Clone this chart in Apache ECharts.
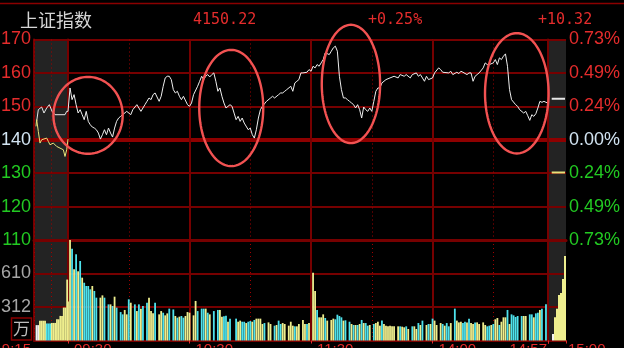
<!DOCTYPE html>
<html><head><meta charset="utf-8">
<script src="https://cdn.jsdelivr.net/npm/echarts@6/dist/echarts.min.js"></script>
<style>html,body{margin:0;padding:0;background:#000;}#c{width:624px;height:348px;}</style>
</head><body><div id="c"></div>
<script>
// ---------- data ----------
const indexName = '上证指数';
const lastPrice = 4150.22;
const prevClose = 4139.90;

const priceTickLabels = ['110', '120', '130', '140', '150', '160', '170'];
const pctTickLabels = ['0.73%', '0.49%', '0.24%', '0.00%', '0.24%', '0.49%', '0.73%'];
const volTickLabels = ['', '312', '610', ''];
const sessionTimeLabels = ['09:30', '10:30', '11:30', '14:00'];
const auctionStartLabel = '9:15';
const closeStartLabel = '14:57';
const closeEndLabel = '15:00';
const volUnitLabel = '万';

// call auction, seconds after 9:15
const auctionPrice = [[47,4145.5],[76,4149],[94,4148.5],[135,4149.8],[176,4148],[224,4149.5],[271,4150.5],[318,4148.5],[371,4147.5],[459,4147.5],[547,4147.5],[577,4148.5],[600,4148.5]];
const auctionAvg = [[35,4144],[47,4146],[76,4142.5],[106,4139],[135,4140],[224,4140.5],[253,4139.5],[282,4138.5],[341,4139],[400,4138],[459,4137.5],[518,4137],[547,4135],[577,4137],[600,4140.2]];
const auctionVolume = [[45,140,'w'],[75,140,'w'],[105,180,'y'],[135,180,'y'],[165,180,'y'],[195,180,'y'],[225,155,'c'],[255,155,'c'],[285,155,'c'],[315,160,'y'],[345,160,'y'],[375,160,'y'],[405,193,'y'],[435,193,'y'],[465,224,'y'],[495,224,'y'],[525,300,'y'],[555,300,'y'],[585,555,'y']];

// continuous session, minutes after 9:30 (11:30/13:00 = 120, 14:57 = 237)
const sessionPrice = [[0,4148.5],[1,4155.5],[2,4152],[3,4153.5],[4,4150.5],[5,4148],[6,4149],[7,4147.5],[8,4146],[9,4148.5],[10,4145.5],[11,4144.5],[12,4143.8],[13,4143.5],[14,4143],[15,4142],[16,4140.2],[17,4141.5],[18,4143],[19,4141.5],[20,4143.5],[21,4142],[22,4140.8],[23,4143.5],[24,4145.5],[25,4146.5],[26,4147],[27,4147.5],[29,4148.5],[31,4147.5],[32,4149],[34,4150.5],[35,4149.5],[36,4148.5],[38,4150.5],[39,4151.5],[40,4152.5],[41,4152],[42,4153.5],[43,4154],[45,4151.5],[46,4153],[47,4156],[48,4158.5],[49,4159],[50,4159],[51,4158],[52,4155],[53,4154],[54,4154.5],[55,4153],[56,4152],[57,4153],[59,4150.5],[60,4150],[61,4151],[62,4153.5],[64,4156],[65,4157.5],[66,4159],[67,4158],[68,4159],[69,4159.5],[70,4158.8],[71,4159.5],[72,4160],[73,4157.5],[74,4154.5],[75,4155.5],[76,4153],[77,4151],[78,4149.5],[80,4150.5],[81,4150],[82,4148],[83,4146],[84,4147],[85,4145.5],[86,4146.5],[87,4145],[89,4143],[90,4143.5],[91,4141.5],[92,4140.5],[93,4143],[94,4146.5],[95,4149],[96,4150],[98,4151.5],[100,4152.5],[101,4153],[102,4152.5],[104,4153.5],[105,4154],[106,4154],[107,4154.5],[108,4155],[110,4156],[111,4154.5],[112,4157],[113,4157.5],[114,4158],[115,4160],[116,4160],[118,4160.2],[119,4161],[120,4160.5],[121,4162],[122,4161.5],[123,4162.5],[124,4162],[125,4163],[126,4164],[127,4166],[129,4165.5],[130,4166.5],[131,4167.5],[132,4168],[133,4166.5],[134,4159],[135,4155],[136,4152.5],[137,4152.5],[138,4152],[139,4151.5],[140,4151],[141,4150.5],[142,4149.5],[143,4150.5],[144,4149],[145,4146.5],[146,4149.8],[147,4149],[148,4148.5],[149,4149.5],[150,4148.5],[151,4151.5],[152,4154.5],[153,4155.5],[154,4155.5],[155,4157],[157,4158],[159,4158.5],[161,4159],[163,4158.5],[164,4159.5],[166,4159],[167,4159.5],[169,4158.5],[170,4159.5],[172,4160],[173,4159],[174,4159.5],[176,4157.5],[177,4159],[178,4158],[180,4158.5],[181,4160],[183,4161.5],[184,4161],[185,4160.2],[188,4160],[189,4160.5],[190,4159.5],[192,4160.2],[193,4159.8],[194,4160.5],[195,4160.2],[197,4159.5],[198,4160],[199,4160],[200,4157.5],[201,4159],[202,4159.5],[203,4160],[205,4161.5],[206,4163],[207,4162.5],[208,4162.5],[210,4163],[211,4164],[212,4162.5],[213,4164.5],[214,4164],[215,4165],[216,4165.7],[217,4162],[218,4155],[219,4152],[221,4150.5],[222,4150],[223,4149],[225,4148],[226,4148.5],[227,4147.2],[228,4145.8],[229,4147.5],[230,4147],[231,4147.8],[232,4149.5],[233,4151.5],[234,4151.2],[235,4151.5],[236,4151.2],[237,4151]];

const sessionVolume = [[0,355,'y'],[1,921,'y'],[2,836,'c'],[3,648,'y'],[4,785,'c'],[5,630,'y'],[6,724,'c'],[7,572,'y'],[8,526,'c'],[9,496,'c'],[10,496,'c'],[11,466,'c'],[12,496,'y'],[13,451,'c'],[14,390,'c'],[16,390,'y'],[17,411,'y'],[18,390,'c'],[20,329,'c'],[21,329,'y'],[22,314,'c'],[23,399,'y'],[24,299,'c'],[26,259,'c'],[27,238,'c'],[28,278,'y'],[29,238,'y'],[30,375,'c'],[31,344,'y'],[33,329,'c'],[34,268,'y'],[35,329,'c'],[36,290,'y'],[37,314,'c'],[39,344,'c'],[40,390,'y'],[41,268,'y'],[42,247,'y'],[43,344,'c'],[45,238,'y'],[46,268,'y'],[47,253,'c'],[48,229,'y'],[49,247,'y'],[50,290,'c'],[52,283,'c'],[53,223,'y'],[54,208,'c'],[55,217,'y'],[56,223,'c'],[57,208,'c'],[58,223,'y'],[59,259,'y'],[60,253,'y'],[62,229,'y'],[63,360,'y'],[64,268,'c'],[66,290,'c'],[67,290,'c'],[68,290,'y'],[69,253,'c'],[70,238,'y'],[72,268,'c'],[74,278,'c'],[75,278,'y'],[76,217,'y'],[77,220,'c'],[78,226,'c'],[79,171,'y'],[80,199,'c'],[83,199,'c'],[84,171,'y'],[85,181,'y'],[86,171,'c'],[87,171,'c'],[88,159,'y'],[89,171,'c'],[90,177,'c'],[91,171,'y'],[92,187,'c'],[93,199,'y'],[94,199,'y'],[95,199,'y'],[96,150,'y'],[97,159,'c'],[99,165,'y'],[100,150,'y'],[102,135,'c'],[103,141,'y'],[104,181,'c'],[105,150,'c'],[106,159,'y'],[107,150,'y'],[109,135,'y'],[110,171,'y'],[111,135,'y'],[112,129,'c'],[113,129,'y'],[114,150,'y'],[116,187,'y'],[117,150,'y'],[118,150,'c'],[119,159,'y'],[121,617,'y'],[122,451,'y'],[123,278,'c'],[124,211,'y'],[125,211,'y'],[126,238,'y'],[127,205,'c'],[128,181,'y'],[130,187,'y'],[131,199,'y'],[132,193,'c'],[133,235,'c'],[134,223,'c'],[135,211,'c'],[136,181,'y'],[137,184,'c'],[139,171,'c'],[140,150,'y'],[141,141,'c'],[142,141,'y'],[143,141,'c'],[144,150,'y'],[145,187,'c'],[146,159,'y'],[147,159,'c'],[148,135,'c'],[149,141,'y'],[151,150,'c'],[152,159,'y'],[153,171,'y'],[154,135,'y'],[155,181,'c'],[156,150,'y'],[157,135,'y'],[158,129,'y'],[159,135,'y'],[160,129,'y'],[161,129,'y'],[163,129,'y'],[164,129,'c'],[165,126,'y'],[166,120,'y'],[167,129,'c'],[168,105,'y'],[170,129,'c'],[171,129,'y'],[172,105,'y'],[173,159,'c'],[174,141,'y'],[175,181,'c'],[177,141,'y'],[178,150,'c'],[179,150,'y'],[180,199,'c'],[181,181,'y'],[182,141,'y'],[184,159,'y'],[185,150,'c'],[186,135,'y'],[187,159,'c'],[188,129,'c'],[189,159,'y'],[191,290,'c'],[192,181,'y'],[193,165,'y'],[194,171,'y'],[195,159,'c'],[196,171,'c'],[197,165,'y'],[198,199,'c'],[199,159,'y'],[200,150,'y'],[201,165,'c'],[202,165,'y'],[203,150,'y'],[205,165,'y'],[206,141,'y'],[207,129,'c'],[208,135,'c'],[209,141,'y'],[210,150,'c'],[211,193,'y'],[212,205,'y'],[213,141,'c'],[214,171,'y'],[215,211,'y'],[216,211,'y'],[217,278,'c'],[218,150,'y'],[219,238,'c'],[220,229,'c'],[221,214,'c'],[222,223,'c'],[224,223,'c'],[225,223,'y'],[226,223,'y'],[228,238,'c'],[229,238,'c'],[230,211,'y'],[231,247,'c'],[232,253,'c'],[233,278,'y'],[234,290,'c'],[236,329,'c']];

// closing auction, seconds after 14:57
const closingPrice = [[37,4152.3],[170,4152.3]];
const closingAvg = [[37,4130.2],[170,4130.2]];
const closingVolume = [[50,60,'w'],[70,211,'y'],[90,290,'y'],[110,415,'y'],[130,432,'y'],[150,561,'y'],[170,769,'y']];

// hand-drawn highlight ellipses: [centre minute, centre price, half-width (min), half-height (pts)]
const highlights = [[9.9,4147.3,17.1,11.5],[80.6,4149.5,15.8,17.4],[139.7,4156.7,14.4,17.7],[221.6,4153.9,15.7,18.0]];

// ---------- style ----------
const PRICE_MIN = 4110, PRICE_MAX = 4170, PRICE_STEP = 10;
const VOL_MAX = 915, VOL_STEP = 305;
const RED = '#e42c2c', GREEN = '#22c922', NEUTRAL = '#d2e4f2', GRAY = '#a6a6a6';
const GRIDC = '#760000', DOTC = '#a00000', THICK = '#8e0000';
const BG = '#232323';
const VCOL = { y: '#eeee8e', c: '#4ee2ec', w: '#f2f2f2' };
const SANS = '"Liberation Sans", Arial, sans-serif';
const TOP = 39.5, PH = 200.5, VT = 240, VH = 100.5;
const L0 = 34, L1 = 68, L2 = 548, R = 566;

const chart = echarts.init(document.getElementById('c'), null, { renderer: 'canvas', width: 624, height: 348 });

const hide = { show: false };
const solidSplit = { show: true, lineStyle: { color: GRIDC, width: 2 } };
const dotSplit = { show: true, lineStyle: { color: DOTC, width: 1, type: [1, 3] } };
function gridBox(left, width, top, height, shaded) {
  return { left: left, width: width, top: top, height: height, containLabel: false, outerBoundsMode: 'none',
    show: shaded, backgroundColor: shaded ? BG : 'transparent', borderWidth: 0 };
}
function priceColor(v) {
  v = Number(v);
  if (v > prevClose + 1) return RED;
  if (v < prevClose - 1) return GREEN;
  return NEUTRAL;
}
function priceIdx(v) { return Math.round((Number(v) - PRICE_MIN) / PRICE_STEP); }
const bottomLine = w => ({ show: true, onZero: false, lineStyle: { color: GRIDC, width: w } });
const lbl = { fontFamily: SANS, fontSize: 15, color: RED, margin: 2 };

const prevLine = {
  silent: true, symbol: ['none', 'none'], z: 1,
  label: { show: false }, emphasis: { disabled: true },
  lineStyle: { color: THICK, width: 4, type: 'solid' },
  data: [{ yAxis: prevClose }]
};

const change = lastPrice - prevClose;
const pct = change / prevClose * 100;

const option = {
  backgroundColor: '#000',
  animation: false,
  grid: [
    gridBox(L0, L1 - L0, TOP, PH, true),
    gridBox(L1, L2 - L1, TOP, PH, false),
    gridBox(L2, R - L2, TOP, PH, true),
    gridBox(L0, L1 - L0, VT, VH, true),
    gridBox(L1, L2 - L1, VT, VH, false),
    gridBox(L2, R - L2, VT, VH, true)
  ],
  xAxis: [
    { gridIndex: 0, type: 'value', min: 0, max: 600, interval: 300, axisLine: bottomLine(3), axisTick: hide, axisLabel: hide, splitLine: dotSplit, z: 1 },
    { gridIndex: 1, type: 'value', min: 0, max: 237, interval: 60, axisLine: bottomLine(3), axisTick: hide, axisLabel: hide, splitLine: solidSplit, z: 3 },
    { gridIndex: 1, type: 'value', position: 'top', min: 0, max: 237, interval: 30, axisLine: hide, axisTick: hide, axisLabel: hide, splitLine: dotSplit, z: 1 },
    { gridIndex: 2, type: 'value', min: 0, max: 180, interval: 180, axisLine: bottomLine(3), axisTick: hide, axisLabel: hide, splitLine: hide },
    { gridIndex: 3, type: 'value', min: 0, max: 600, interval: 300, axisLine: bottomLine(2), axisTick: hide,
      axisLabel: Object.assign({}, lbl, { showMinLabel: true, align: 'right', padding: [0, 3, 0, 0], formatter: v => v === 0 ? auctionStartLabel : '' }),
      splitLine: dotSplit, z: 1 },
    { gridIndex: 4, type: 'value', min: 0, max: 237, interval: 60, axisLine: bottomLine(2),
      axisTick: { show: true, length: 3, lineStyle: { color: RED } },
      axisLabel: Object.assign({}, lbl, { showMinLabel: true, align: 'left', padding: [0, 0, 0, 6], formatter: v => sessionTimeLabels[v / 60] || '' }),
      splitLine: solidSplit, z: 3 },
    { gridIndex: 4, type: 'value', position: 'top', min: 0, max: 237, interval: 30, axisLine: hide, axisTick: hide, axisLabel: hide, splitLine: dotSplit, z: 1 },
    { gridIndex: 5, type: 'value', position: 'bottom', min: 0, max: 180, interval: 180, axisLine: bottomLine(2),
      axisTick: { show: true, length: 3, lineStyle: { color: RED } },
      axisLabel: Object.assign({}, lbl, { showMinLabel: true, showMaxLabel: true, align: 'right', padding: [0, 1, 0, 0], formatter: v => v === 0 ? closeStartLabel : '' }),
      splitLine: hide },
    { gridIndex: 5, type: 'value', position: 'bottom', offset: 0, min: 0, max: 180, interval: 180, axisLine: hide, axisTick: hide,
      axisLabel: Object.assign({}, lbl, { showMinLabel: true, showMaxLabel: true, align: 'left', padding: [0, 0, 0, 2], formatter: v => v === 180 ? closeEndLabel : '' }),
      splitLine: hide }
  ],
  yAxis: [
    { gridIndex: 0, type: 'value', position: 'left', min: PRICE_MIN, max: PRICE_MAX, interval: PRICE_STEP,
      axisLine: { show: true, lineStyle: { color: GRIDC, width: 2 } }, axisTick: hide,
      axisLabel: { show: true, fontFamily: SANS, fontSize: 18, margin: 3, color: v => priceColor(v), formatter: v => priceTickLabels[priceIdx(v)] },
      splitLine: solidSplit },
    { gridIndex: 1, type: 'value', position: 'right', min: PRICE_MIN, max: PRICE_MAX, interval: PRICE_STEP,
      axisLine: { show: true, lineStyle: { color: GRIDC, width: 2 } }, axisTick: hide, axisLabel: hide, splitLine: solidSplit },
    { gridIndex: 2, type: 'value', position: 'right', min: PRICE_MIN, max: PRICE_MAX, interval: PRICE_STEP,
      axisLine: { show: true, lineStyle: { color: GRIDC, width: 2 } }, axisTick: hide,
      axisLabel: { show: true, fontFamily: SANS, fontSize: 18, margin: 3, color: v => priceColor(v), formatter: v => pctTickLabels[pctTickLabels.length - 1 - priceIdx(v)] },
      splitLine: solidSplit },
    { gridIndex: 3, type: 'value', position: 'left', min: 0, max: VOL_MAX, interval: VOL_STEP,
      axisLine: { show: true, lineStyle: { color: GRIDC, width: 2 } }, axisTick: hide,
      axisLabel: { show: true, fontFamily: SANS, fontSize: 18, margin: 3, color: GRAY, formatter: v => volTickLabels[Math.round(v / VOL_STEP)] },
      splitLine: solidSplit },
    { gridIndex: 4, type: 'value', position: 'right', min: 0, max: VOL_MAX, interval: VOL_STEP,
      axisLine: { show: true, lineStyle: { color: GRIDC, width: 2 } }, axisTick: hide, axisLabel: hide, splitLine: solidSplit },
    { gridIndex: 5, type: 'value', position: 'right', min: 0, max: VOL_MAX, interval: VOL_STEP,
      axisLine: { show: true, lineStyle: { color: GRIDC, width: 2 } }, axisTick: hide, axisLabel: hide, splitLine: solidSplit }
  ],
  series: [
    { type: 'line', xAxisIndex: 0, yAxisIndex: 0, data: auctionPrice, showSymbol: false, silent: true, z: 4,
      lineStyle: { color: '#e6e6e6', width: 1 }, markLine: prevLine },
    { type: 'line', xAxisIndex: 0, yAxisIndex: 0, data: auctionAvg, showSymbol: false, silent: true, z: 4,
      lineStyle: { color: '#e6e27a', width: 1 } },
    { type: 'line', xAxisIndex: 1, yAxisIndex: 1, data: sessionPrice, showSymbol: false, silent: true, z: 4,
      lineStyle: { color: '#eeeeee', width: 1 }, markLine: prevLine },
    { type: 'line', xAxisIndex: 3, yAxisIndex: 2, data: closingPrice, showSymbol: false, silent: true, z: 4,
      lineStyle: { color: '#e6e6e6', width: 2 }, markLine: prevLine },
    { type: 'line', xAxisIndex: 3, yAxisIndex: 2, data: closingAvg, showSymbol: false, silent: true, z: 4,
      lineStyle: { color: '#e6e27a', width: 2 } },
    { type: 'bar', xAxisIndex: 4, yAxisIndex: 3, barWidth: 1.8, silent: true, z: 4,
      data: auctionVolume.map(d => ({ value: [d[0], d[1]], itemStyle: { color: VCOL[d[2]] } })) },
    { type: 'bar', xAxisIndex: 5, yAxisIndex: 4, barWidth: 1.8, silent: true, z: 4,
      data: sessionVolume.map(d => ({ value: [d[0], d[1]], itemStyle: { color: VCOL[d[2]] } })) },
    { type: 'bar', xAxisIndex: 7, yAxisIndex: 5, barWidth: 2, silent: true, z: 4,
      data: closingVolume.map(d => ({ value: [d[0], d[1]], itemStyle: { color: VCOL[d[2]] } })) },
    { type: 'custom', xAxisIndex: 1, yAxisIndex: 1, clip: false, silent: true, z: 10, data: highlights,
      renderItem: function (params, api) {
        const c = api.coord([api.value(0), api.value(1)]);
        const s = api.size([api.value(2), api.value(3)]);
        const pts = [];
        for (let k = 0; k < 120; k++) {
          const a = k / 120 * Math.PI * 2;
          pts.push([c[0] + s[0] * Math.cos(a), c[1] + s[1] * Math.sin(a)]);
        }
        return { type: 'polygon', shape: { points: pts }, style: { fill: 'none', stroke: '#f25252', lineWidth: 2.4 } };
      } }
  ],
  graphic: [
    { type: 'line', silent: true, shape: { x1: 0, y1: 3.5, x2: 624, y2: 3.5 }, style: { stroke: '#8b0000', lineWidth: 1.5 } },
    { type: 'text', silent: true, x: 20, y: 20.5, style: { text: indexName, fill: '#d6d6d6', font: '18px "Noto Sans CJK SC"', align: 'left', verticalAlign: 'middle' } },
    { type: 'text', silent: true, x: 193, y: 20.5, style: { text: lastPrice.toFixed(2), fill: RED, font: '15px "DejaVu Sans Mono"', align: 'left', verticalAlign: 'middle' } },
    { type: 'text', silent: true, x: 368, y: 20.5, style: { text: '+' + pct.toFixed(2) + '%', fill: RED, font: '15px "DejaVu Sans Mono"', align: 'left', verticalAlign: 'middle' } },
    { type: 'text', silent: true, x: 538, y: 20.5, style: { text: '+' + change.toFixed(2), fill: RED, font: '15px "DejaVu Sans Mono"', align: 'left', verticalAlign: 'middle' } },
    { type: 'rect', silent: true, shape: { x: 11.5, y: 318, width: 20, height: 22 }, style: { fill: 'none', stroke: '#8b0000', lineWidth: 1.5 } },
    { type: 'text', silent: true, x: 21.5, y: 329, style: { text: volUnitLabel, fill: '#bdbdbd', font: '17px "Noto Sans CJK SC"', align: 'center', verticalAlign: 'middle' } }
  ]
};
chart.setOption(option);
</script>
</body></html>
